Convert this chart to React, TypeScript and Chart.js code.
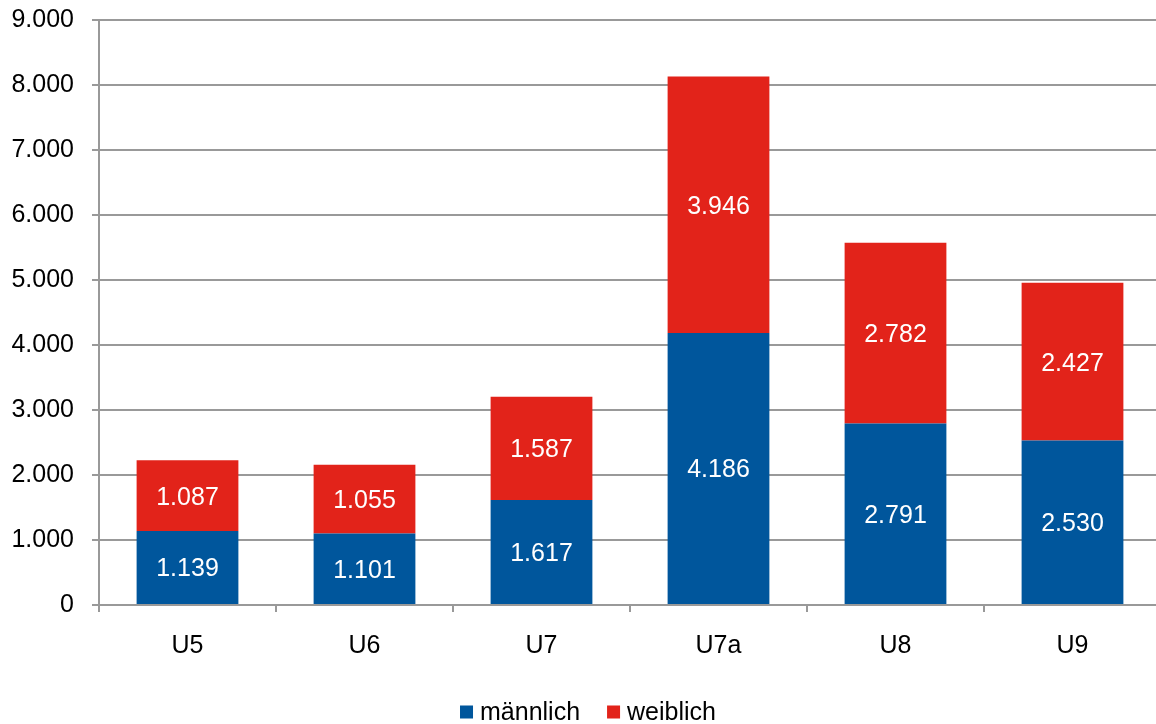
import React, { useEffect, useRef } from "react";
import { Chart, registerables } from "chart.js";

Chart.register(...registerables);

const categories = ["U5", "U6", "U7", "U7a", "U8", "U9"];
const maleValues = [1139, 1101, 1617, 4186, 2791, 2530];
const femaleValues = [1087, 1055, 1587, 3946, 2782, 2427];
const seriesNames = ["männlich", "weiblich"];
const seriesColors = ["#00569C", "#E2231A"];

const FONT = "Arial, 'Liberation Sans', sans-serif";
const fmt = (v: number) => new Intl.NumberFormat("de-DE").format(v);

const dataLabelPlugin = {
  id: "dataLabels",
  afterDatasetsDraw(chart: any) {
    const ctx = chart.ctx;
    ctx.save();
    ctx.fillStyle = "#ffffff";
    ctx.font = `25px ${FONT}`;
    ctx.textAlign = "center";
    ctx.textBaseline = "middle";
    chart.data.datasets.forEach((ds: any, di: number) => {
      const meta = chart.getDatasetMeta(di);
      meta.data.forEach((el: any, i: number) => {
        const y = (el.y + el.base) / 2;
        ctx.fillText(fmt(ds.data[i]), el.x, y + 2);
      });
    });
    ctx.restore();
  },
};

const legendPlugin = {
  id: "customLegend",
  afterDraw(chart: any) {
    const ctx = chart.ctx;
    ctx.save();
    ctx.font = `25px ${FONT}`;
    ctx.textBaseline = "middle";
    ctx.textAlign = "left";
    const box = 13;
    const gap = 7;
    const itemGap = 27;
    const widths = seriesNames.map((n) => box + gap + ctx.measureText(n).width);
    const total = widths.reduce((a, b) => a + b, 0) + itemGap * (widths.length - 1);
    const cx = 588;
    let x = cx - total / 2;
    const y = 712;
    seriesNames.forEach((n, i) => {
      ctx.fillStyle = seriesColors[i];
      ctx.fillRect(x, y - box / 2, box, box);
      ctx.fillStyle = "#000000";
      ctx.fillText(n, x + box + gap, y + 1);
      x += widths[i] + itemGap;
    });
    ctx.restore();
  },
};

export default function App() {
  const canvasRef = useRef<HTMLCanvasElement>(null);

  useEffect(() => {
    if (!canvasRef.current) return;
    const chart = new Chart(canvasRef.current, {
      type: "bar",
      data: {
        labels: categories,
        datasets: [
          {
            label: seriesNames[0],
            data: maleValues,
            backgroundColor: seriesColors[0],
            borderWidth: 0,
            categoryPercentage: 1,
            barPercentage: 0.575,
          },
          {
            label: seriesNames[1],
            data: femaleValues,
            backgroundColor: seriesColors[1],
            borderWidth: 0,
            categoryPercentage: 1,
            barPercentage: 0.575,
          },
        ],
      },
      options: {
        responsive: false,
        animation: false,
        devicePixelRatio: 1,
        layout: { padding: { top: 20, right: 15, bottom: 0, left: 0 } },
        plugins: {
          legend: { display: false },
          tooltip: { enabled: false },
        },
        scales: {
          x: {
            stacked: true,
            offset: true,
            border: { display: true, color: "#999999", width: 2 },
            grid: {
              offset: true,
              drawOnChartArea: false,
              drawTicks: true,
              tickLength: 7,
              color: "#999999",
              lineWidth: 2,
            },
            ticks: {
              color: "#000000",
              font: { family: FONT, size: 25 },
              padding: 19,
              maxRotation: 0,
            },
            afterFit(scale: any) {
              scale.height = 119;
              scale.paddingTop = 0;
              scale.paddingBottom = 0;
            },
          },
          y: {
            stacked: true,
            min: 0,
            max: 9000,
            border: { display: true, color: "#999999", width: 2 },
            grid: {
              color: "#999999",
              lineWidth: 2,
              tickLength: 7,
            },
            ticks: {
              stepSize: 1000,
              color: "#000000",
              font: { family: FONT, size: 25 },
              padding: 18,
              callback: (v: any) => fmt(Number(v)),
            },
            afterFit(scale: any) {
              scale.width = 99;
              scale.paddingTop = 0;
              scale.paddingBottom = 0;
            },
          },
        },
      },
      plugins: [dataLabelPlugin, legendPlugin],
    });
    return () => chart.destroy();
  }, []);

  return (
    <div
      style={{
        position: "fixed",
        left: 0,
        top: 0,
        width: 1156,
        height: 724,
        overflow: "hidden",
        background: "#ffffff",
      }}
    >
      <canvas ref={canvasRef} width={1176} height={724} style={{ display: "block" }} />
    </div>
  );
}
